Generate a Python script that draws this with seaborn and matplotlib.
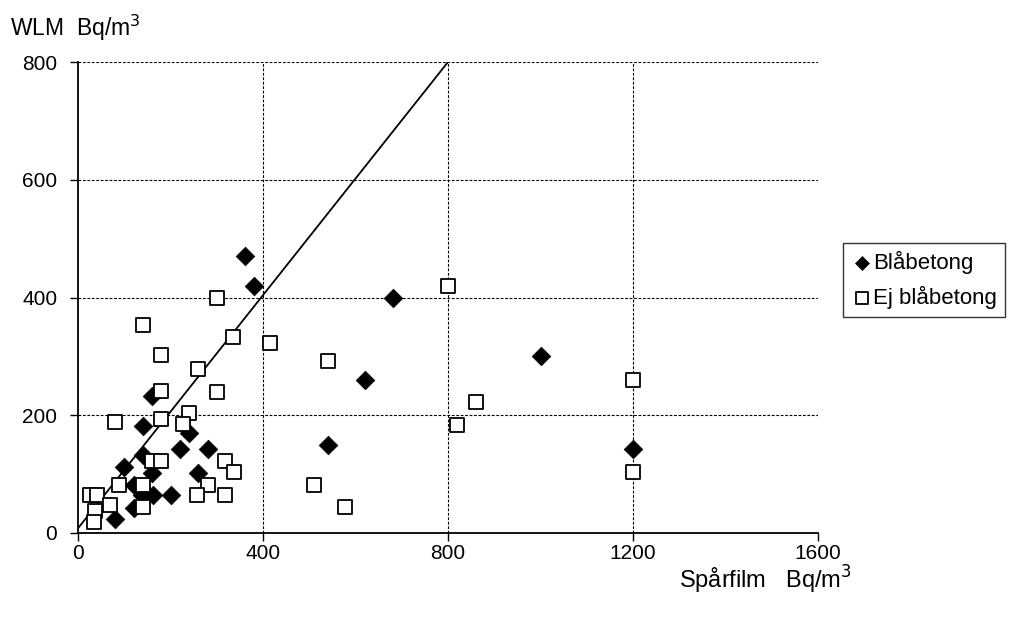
import matplotlib
matplotlib.use("Agg")
import matplotlib.pyplot as plt
import seaborn as sns
import pandas as pd

bla_x = [360, 380, 160, 140, 240, 140, 220, 280, 100, 160, 260, 120, 138, 162, 200, 120, 80,
         680, 1000, 620, 540, 1200]
bla_y = [470, 420, 232, 182, 170, 132, 142, 142, 112, 102, 102, 82, 64, 64, 64, 42, 23,
         400, 300, 260, 150, 142]

ej_x = [300, 140, 335, 415, 180, 260, 180, 300, 240, 80, 180, 228, 160, 180, 318, 337, 88, 140,
        280, 25, 42, 258, 318, 70, 140, 36, 35, 540, 510, 578, 800, 1200, 860, 820, 1200]
ej_y = [400, 353, 333, 322, 302, 278, 242, 240, 204, 188, 194, 185, 122, 122, 122, 103, 82, 82,
        82, 65, 65, 65, 65, 48, 45, 38, 18, 292, 82, 45, 420, 260, 222, 183, 103]

line_x = [0, 800]
line_y = [8, 800]

x_ticks = [0, 400, 800, 1200, 1600]
y_ticks = [0, 200, 400, 600, 800]

df_bla = pd.DataFrame({"x": bla_x, "y": bla_y})
df_ej = pd.DataFrame({"x": ej_x, "y": ej_y})
df_line = pd.DataFrame({"x": line_x, "y": line_y})

sns.set_style("white")
plt.rcParams['font.family'] = ['Liberation Sans', 'DejaVu Sans']
plt.rcParams['text.color'] = 'black'
plt.rcParams['xtick.color'] = 'black'
plt.rcParams['ytick.color'] = 'black'
plt.rcParams['axes.labelcolor'] = 'black'

fig = plt.figure(figsize=(10.19, 6.17), dpi=100)
ax = fig.add_axes([78 / 1019, 1 - 533 / 617, 740 / 1019, 471 / 617])

sns.lineplot(data=df_line, x="x", y="y", ax=ax, color="black", linewidth=1.3, zorder=2)
sns.scatterplot(data=df_bla, x="x", y="y", ax=ax, marker="D", s=90, color="black",
                edgecolor="black", linewidth=0.5, label="Blåbetong", zorder=3)
sns.scatterplot(data=df_ej, x="x", y="y", ax=ax, marker="s", s=115, facecolor="white",
                edgecolor="black", linewidth=1.3, label="Ej blåbetong", zorder=4)

ax.set_xlim(0, 1600)
ax.set_ylim(0, 800)
ax.set_xticks(x_ticks)
ax.set_yticks(y_ticks)
ax.tick_params(axis="both", labelsize=15, direction="out", length=6, width=1, color="black",
               labelcolor="black", bottom=True, left=True)
ax.tick_params(axis="x", pad=2)
ax.tick_params(axis="y", pad=9)
for v in [200, 400, 600, 800]:
    ax.axhline(v, color="black", linestyle=(0, (2.5, 1.5)), linewidth=0.8, zorder=1)
for v in [400, 800, 1200]:
    ax.axvline(v, color="black", linestyle=(0, (2.5, 1.5)), linewidth=0.8, zorder=1)

for s in ["top", "right"]:
    ax.spines[s].set_visible(False)
for s in ["left", "bottom"]:
    ax.spines[s].set_color("black")
    ax.spines[s].set_linewidth(1.3)

ax.set_xlabel("")
ax.set_ylabel("")
fig.text(10 / 1019, 1 - 28 / 617, "WLM  Bq/m$^3$", fontsize=16.5, ha="left", va="center",
         color="black")
fig.text(852 / 1019, 1 - 580 / 617, "Spårfilm   Bq/m$^3$", fontsize=17, ha="right", va="center",
         color="black")

leg = ax.legend(loc="upper left", bbox_to_anchor=(843 / 1019, 1 - 243 / 617),
                bbox_transform=fig.transFigure, frameon=True, fancybox=False,
                fontsize=16, handletextpad=0.0, handlelength=1.0, borderpad=0.35,
                labelspacing=0.55, borderaxespad=0, markerscale=0.75, labelcolor="black")
leg.get_frame().set_edgecolor("black")
leg.get_frame().set_linewidth(1.0)

fig.savefig("out.png", dpi=100)
